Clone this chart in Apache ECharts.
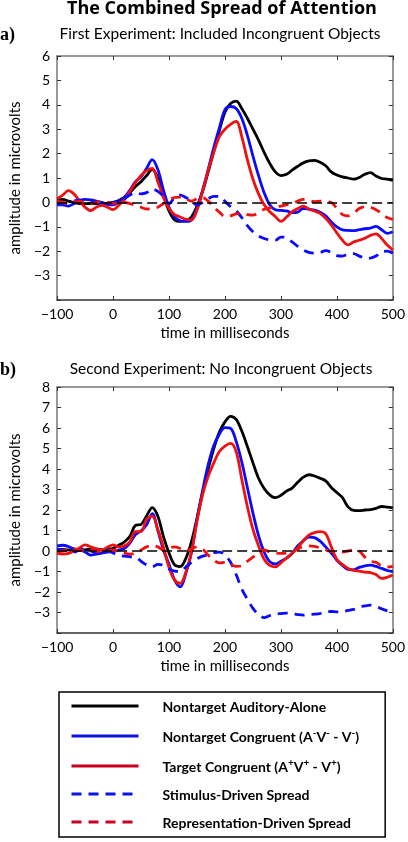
<!DOCTYPE html>
<html><head><meta charset="utf-8">
<script src="https://cdn.jsdelivr.net/npm/echarts@6/dist/echarts.min.js"></script>
<style>html,body{margin:0;padding:0;background:#fff}#c{width:408px;height:842px}</style>
</head><body><div id="c"></div>
<script>
const times = [-100,-90,-80,-70,-60,-50,-40,-30,-20,-10,0,10,20,30,40,50,60,70,80,90,100,110,120,130,140,150,160,170,180,190,200,210,220,230,240,250,260,270,280,290,300,310,320,330,340,350,360,370,380,390,400,410,420,430,440,450,460,470,480,490,500];

// Panel a: First Experiment
const aAudAlone = [0.1,0.12,0.05,0.0,-0.05,-0.05,-0.05,-0.05,-0.03,-0.05,0.0,0.08,0.2,0.4,0.65,0.85,1.1,1.35,1.0,0.3,-0.35,-0.72,-0.78,-0.75,-0.6,-0.15,0.45,1.25,2.1,2.95,3.7,4.05,4.15,3.85,3.45,3.0,2.55,2.05,1.6,1.25,1.1,1.15,1.32,1.48,1.62,1.7,1.72,1.65,1.5,1.25,1.12,1.05,1.0,0.95,1.02,1.15,1.22,1.08,0.98,0.95,0.9];
const aNontCong = [-0.1,-0.1,-0.15,-0.05,0.05,0.12,0.1,0.05,0.0,-0.08,-0.1,0.0,0.2,0.5,0.85,1.05,1.4,1.75,1.35,0.5,-0.2,-0.6,-0.75,-0.78,-0.72,-0.25,0.5,1.35,2.25,3.05,3.8,3.93,3.85,3.45,2.75,1.9,1.1,0.4,-0.1,-0.3,-0.33,-0.35,-0.42,-0.4,-0.25,-0.28,-0.32,-0.4,-0.55,-0.8,-1.0,-1.13,-1.15,-1.16,-1.12,-1.08,-1.05,-0.98,-1.12,-1.27,-1.2];
const aTargCong = [0.15,0.3,0.48,0.35,0.05,-0.2,-0.34,-0.2,-0.12,-0.2,-0.3,-0.12,0.1,0.45,0.8,1.1,1.3,1.39,0.85,0.2,-0.25,-0.5,-0.6,-0.69,-0.72,-0.31,0.45,1.32,2.05,2.7,3.0,3.2,3.32,2.7,1.75,0.95,0.35,-0.1,-0.38,-0.58,-0.78,-0.6,-0.38,-0.25,-0.15,-0.28,-0.35,-0.45,-0.65,-0.92,-1.25,-1.55,-1.74,-1.62,-1.55,-1.47,-1.35,-1.29,-1.48,-1.75,-1.95];
const aStimSpread = [-0.05,-0.05,0.0,0.05,0.1,0.08,0.02,0.0,-0.05,-0.03,0.0,0.05,0.15,0.3,0.4,0.35,0.4,0.55,0.45,0.25,-0.05,0.2,0.3,0.2,0.05,-0.1,0.0,0.15,0.25,0.25,0.05,-0.18,-0.35,-0.62,-0.95,-1.2,-1.38,-1.48,-1.54,-1.55,-1.42,-1.45,-1.62,-1.8,-1.95,-2.05,-2.08,-2.05,-1.98,-2.05,-2.18,-2.2,-2.12,-2.1,-2.2,-2.28,-2.28,-2.2,-2.02,-2.0,-2.08];
const aReprSpread = [0.05,0.0,-0.05,0.0,0.05,0.0,-0.05,0.0,0.05,0.0,-0.05,0.0,0.0,-0.05,-0.12,-0.2,-0.27,-0.25,-0.2,-0.05,0.1,0.2,0.22,0.15,0.05,0.15,0.2,0.05,-0.2,-0.4,-0.58,-0.55,-0.47,-0.45,-0.5,-0.52,-0.42,-0.28,-0.22,-0.2,-0.15,-0.1,-0.05,0.05,0.12,0.08,0.03,0.05,0.03,0.0,-0.25,-0.5,-0.55,-0.45,-0.25,-0.18,-0.2,-0.3,-0.45,-0.62,-0.7];

// Panel b: Second Experiment
const bAudAlone = [0.05,0.08,0.05,0.0,0.05,0.05,0.1,0.1,0.05,0.08,0.13,0.28,0.44,0.72,1.25,1.3,1.72,2.12,1.7,0.7,-0.1,-0.68,-0.76,-0.36,0.45,1.6,2.85,4.0,5.0,5.8,6.3,6.57,6.42,5.85,5.1,4.3,3.55,3.05,2.74,2.6,2.72,2.92,3.07,3.35,3.6,3.72,3.66,3.55,3.42,3.1,2.85,2.6,2.15,1.98,1.97,2.0,2.02,2.08,2.17,2.14,2.1];
const bNontCong = [0.25,0.28,0.22,0.1,0.05,-0.05,-0.2,-0.15,-0.1,-0.05,-0.03,0.05,0.12,0.38,0.8,0.98,1.28,1.82,1.0,0.05,-0.65,-1.42,-1.75,-1.1,-0.1,1.55,2.95,4.21,5.15,5.7,6.02,5.98,5.35,4.35,3.1,1.85,0.75,-0.05,-0.52,-0.63,-0.5,-0.35,-0.11,0.25,0.5,0.68,0.65,0.48,0.2,-0.1,-0.45,-0.7,-0.9,-0.92,-0.8,-0.72,-0.69,-0.75,-0.85,-0.95,-1.0];
const bTargCong = [-0.1,-0.15,-0.12,0.0,0.15,0.3,0.2,0.1,0.05,0.18,0.3,0.2,0.25,0.45,0.95,0.95,1.55,1.7,1.05,0.2,-0.8,-1.42,-1.58,-1.05,-0.05,1.45,2.75,3.64,4.3,4.85,5.12,5.25,4.85,3.5,2.17,1.05,0.25,-0.4,-0.7,-0.77,-0.58,-0.35,-0.12,0.15,0.5,0.78,0.9,0.95,0.85,0.2,-0.42,-0.66,-0.85,-0.95,-0.98,-1.03,-1.05,-1.15,-1.34,-1.28,-1.17];
const bStimSpread = [0.1,0.05,0.0,-0.05,0.05,0.1,0.0,-0.1,0.0,0.05,-0.1,-0.2,-0.25,-0.28,-0.3,-0.5,-0.68,-0.77,-0.65,-0.7,-0.88,-0.98,-1.0,-0.78,-0.55,-0.38,-0.25,-0.18,-0.08,-0.05,-0.2,-0.55,-1.15,-1.85,-2.35,-2.8,-3.1,-3.25,-3.15,-3.08,-3.05,-3.03,-3.05,-3.1,-3.13,-3.1,-3.08,-3.05,-2.98,-2.95,-2.97,-2.95,-2.9,-2.85,-2.75,-2.68,-2.64,-2.7,-2.82,-2.92,-2.97];
const bReprSpread = [-0.05,0.0,0.05,0.1,0.05,0.0,0.05,0.0,-0.05,0.0,0.05,0.0,-0.1,-0.15,-0.1,0.05,0.2,0.28,0.2,0.05,0.15,0.2,0.12,0.0,0.1,0.2,0.1,-0.2,-0.45,-0.58,-0.55,-0.65,-0.75,-0.72,-0.5,-0.3,-0.1,0.05,-0.05,-0.1,-0.12,-0.1,-0.05,0.1,0.22,0.25,0.22,0.15,0.05,-0.02,-0.05,-0.05,0.0,0.05,0.0,-0.3,-0.5,-0.55,-0.72,-0.78,-0.75];

const seriesNames = ['Nontarget Auditory-Alone','Nontarget Congruent (A\u207BV\u207B - V\u207B)','Target Congruent (A\u207AV\u207A - V\u207A)','Stimulus-Driven Spread','Representation-Driven Spread'];
const xTicks = [-100, 0, 100, 200, 300, 400, 500];
const yRangeA = [-4, 6];
const yRangeB = [-4, 8];

const colors = ['#000000', '#0a0aff', '#f01010', '#0a0aff', '#f01010'];
const legendColors = ['#000000', '#0a14e6', '#c8001e', '#0a14e6', '#c8001e'];
const dashes = ['solid', 'solid', 'solid', [10, 7], [10, 7]];

const fmtNum = v => v < 0 ? '\u2212' + Math.abs(v) : String(v);
const pairs = arr => times.map((t, i) => [t, arr[i]]);

// legend label: superscript characters rendered as raised rich-text fragments
const supMap = {'\u207B': '-', '\u207A': '+'};
function legendLabel(name) {
  let out = '';
  let buf = '';
  for (const ch of name) {
    if (supMap[ch]) {
      if (buf) { out += '{b|' + buf + '}'; buf = ''; }
      out += '{s|' + supMap[ch] + '}';
    } else buf += ch;
  }
  if (buf) out += '{b|' + buf + '}';
  return out;
}

const chart = echarts.init(document.getElementById('c'), null, {renderer: 'canvas'});

function xAxes(gi) {
  const base = {
    type: 'value', gridIndex: gi, min: xTicks[0], max: xTicks[xTicks.length - 1], interval: 100,
    splitLine: {show: false},
    axisTick: {show: true, inside: true, length: 4, lineStyle: {color: '#333', width: 1}},
  };
  return [
    Object.assign({}, base, {
      position: 'bottom',
      axisLine: {show: true, onZero: false, lineStyle: {color: '#333', width: 1.5}},
      axisLabel: {show: true, color: '#000', fontFamily: 'Lato', fontSize: 14, margin: 7, formatter: fmtNum},
      name: 'time in milliseconds', nameLocation: 'middle', nameGap: 26,
      nameTextStyle: {color: '#000', fontFamily: 'Lato', fontSize: 15}
    }),
    Object.assign({}, base, {
      position: 'top',
      axisLine: {show: true, onZero: false, lineStyle: {color: '#777', width: 1.5}},
      axisLabel: {show: false}
    })
  ];
}
function yAxes(gi, range) {
  const base = {
    type: 'value', gridIndex: gi, min: range[0], max: range[1], interval: 1,
    splitLine: {show: false},
    axisTick: {show: true, inside: true, length: 4, lineStyle: {color: '#333', width: 1}},
  };
  return [
    Object.assign({}, base, {
      position: 'left',
      axisLine: {show: true, onZero: false, lineStyle: {color: '#777', width: 1.5}},
      axisLabel: {show: true, color: '#000', fontFamily: 'Lato', fontSize: 14, margin: 7,
        formatter: v => v === range[0] ? '' : fmtNum(v)},
      name: 'amplitude in microvolts', nameLocation: 'middle', nameGap: 27,
      nameTextStyle: {color: '#000', fontFamily: 'Lato', fontSize: 15}
    }),
    Object.assign({}, base, {
      position: 'right',
      axisLine: {show: true, onZero: false, lineStyle: {color: '#777', width: 1.5}},
      axisLabel: {show: false}
    })
  ];
}

function panelSeries(gi, arrays) {
  return arrays.map((arr, i) => {
    const s = {
      name: seriesNames[i], type: 'line', xAxisIndex: gi * 2, yAxisIndex: gi * 2,
      data: pairs(arr), showSymbol: false, symbol: 'none', smooth: 0.35,
      lineStyle: {color: colors[i], width: 2.8, type: dashes[i]},
      itemStyle: {color: colors[i]},
      z: 3, silent: true, animation: false
    };
    if (i === 0) {
      s.markLine = {
        silent: true, symbol: ['none', 'none'], label: {show: false},
        lineStyle: {color: '#000', type: [10, 5], width: 1.7},
        data: [{yAxis: 0}], animation: false
      };
    }
    return s;
  });
}

const option = {
  backgroundColor: '#fff',
  animation: false,
  title: [
    {text: 'The Combined Spread of Attention', left: 222, textAlign: 'center', top: 0, padding: 0,
      textStyle: {fontFamily: 'Open Sans', fontWeight: 'bold', fontSize: 18, color: '#000'}},
    {text: 'a)', left: 0, top: 26, padding: 0,
      textStyle: {fontFamily: 'Liberation Serif', fontWeight: 'bold', fontSize: 18, color: '#000'}},
    {text: 'First Experiment: Included Incongruent Objects', left: 220, textAlign: 'center', top: 26, padding: 0,
      textStyle: {fontFamily: 'Lato', fontWeight: 'normal', fontSize: 15.5, color: '#000'}},
    {text: 'b)', left: 0, top: 361, padding: 0,
      textStyle: {fontFamily: 'Liberation Serif', fontWeight: 'bold', fontSize: 18, color: '#000'}},
    {text: 'Second Experiment: No Incongruent Objects', left: 221, textAlign: 'center', top: 361, padding: 0,
      textStyle: {fontFamily: 'Lato', fontWeight: 'normal', fontSize: 15.5, color: '#000'}}
  ],
  grid: [
    {left: 45, top: 56, width: 352, height: 244, show: false},
    {left: 45, top: 387, width: 352, height: 246, show: false}
  ],
  xAxis: [...xAxes(0), ...xAxes(1)],
  yAxis: [...yAxes(0, yRangeA), ...yAxes(1, yRangeB)],
  legend: {
    orient: 'vertical', left: 59, top: 692,
    padding: [8, 26, 7, 11], itemGap: 14, itemWidth: 67, itemHeight: 14,
    borderColor: '#000', borderWidth: 1.5, backgroundColor: '#fff', borderRadius: 0,
    selectedMode: false,
    formatter: legendLabel,
    textStyle: {
      fontFamily: 'Lato', fontWeight: 'bold', fontSize: 14, color: '#000', padding: [0, 0, 0, 19],
      rich: {
        b: {fontFamily: 'Lato', fontWeight: 'bold', fontSize: 14, color: '#000', lineHeight: 16, verticalAlign: 'bottom'},
        s: {fontFamily: 'Lato', fontWeight: 'bold', fontSize: 10, color: '#000', lineHeight: 16, verticalAlign: 'bottom', padding: [0, 0, 6, 0]}
      }
    },
    data: seriesNames.map((n, i) => ({
      name: n,
      lineStyle: {color: legendColors[i], width: 3, type: dashes[i]},
      itemStyle: {color: legendColors[i], opacity: 0}
    }))
  },
  series: [
    ...panelSeries(0, [aAudAlone, aNontCong, aTargCong, aStimSpread, aReprSpread]),
    ...panelSeries(1, [bAudAlone, bNontCong, bTargCong, bStimSpread, bReprSpread])
  ]
};
chart.setOption(option);
</script>
</body></html>
